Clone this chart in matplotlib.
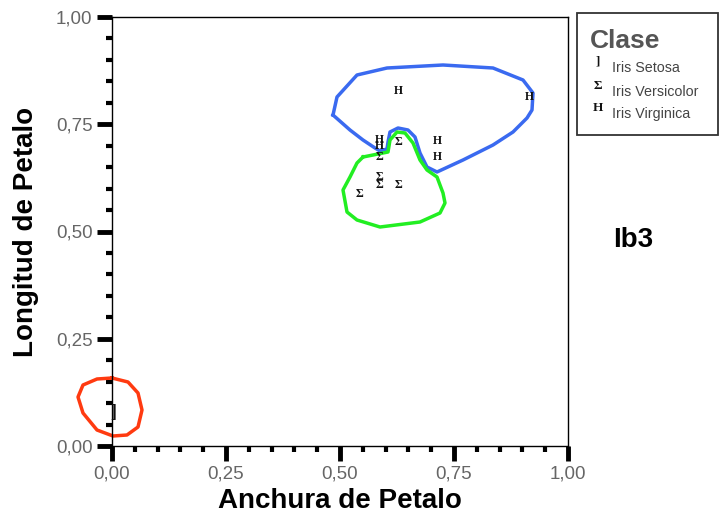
import matplotlib
matplotlib.use("Agg")
import matplotlib.pyplot as plt
from matplotlib.patches import Rectangle
from matplotlib.ticker import MultipleLocator, FuncFormatter

# ---- data ----
setosa_x = [0.0]
setosa_y = [0.079]
versicolor_x = [0.629, 0.586, 0.586, 0.586, 0.629, 0.542]
versicolor_y = [0.709, 0.674, 0.627, 0.608, 0.608, 0.587]
virginica_x = [0.629, 0.915, 0.586, 0.586, 0.713, 0.713]
virginica_y = [0.827, 0.813, 0.713, 0.699, 0.711, 0.674]

legend_labels = ["Iris Setosa", "Iris Versicolor", "Iris Virginica"]
legend_symbols = ["]", "\u03a3", "H"]

# hand-drawn outlines (pixel-read, converted to data units below)
blue_px = [(333,115),(337,97),(357,75),(387,68),(443,65),(493,68),(523,80),(533,93),
           (532,110),(527,118),(513,132),(493,145),(463,160),(437,172),(427,167),
           (420,153),(415,137),(408,130),(398,128),(390,132),(388,142),(387,149),
           (380,151),(375,148),(363,140),(350,130),(333,115)]
green_px = [(363,157),(388,152),(390,140),(397,132),(405,133),(413,143),(420,160),
            (427,170),(437,177),(443,193),(445,203),(440,213),(420,222),(380,227),
            (357,220),(347,212),(343,190),(350,177),(357,163),(363,157)]
red_px = [(112,378),(128,382),(138,393),(142,410),(138,427),(127,435),(113,436),
          (97,430),(83,413),(78,397),(83,385),(97,379),(112,378)]

def to_data(pts):
    xs = [(p[0] - 112) / 456.0 for p in pts]
    ys = [(446 - p[1]) / 429.0 for p in pts]
    return xs, ys

W, H = 722, 521
fig = plt.figure(figsize=(W/100, H/100), dpi=100)
ax = fig.add_axes([112/W, (H-446)/H, (568-112)/W, (446-17)/H])
ax.set_xlim(0, 1)
ax.set_ylim(0, 1)

for s in ax.spines.values():
    s.set_linewidth(1.0)
    s.set_color("black")

ax.xaxis.set_major_locator(MultipleLocator(0.25))
ax.yaxis.set_major_locator(MultipleLocator(0.25))
ax.xaxis.set_minor_locator(MultipleLocator(0.05))
ax.yaxis.set_minor_locator(MultipleLocator(0.05))
fmt = FuncFormatter(lambda v, p: f"{v:.2f}".replace(".", ","))
ax.xaxis.set_major_formatter(fmt)
ax.yaxis.set_major_formatter(fmt)
ax.tick_params(which="major", direction="out", length=11, width=3.5, color="black",
               labelsize=13.5, labelcolor="#666666", pad=3)
ax.tick_params(which="minor", direction="out", length=4, width=3, color="black")
for lab in ax.get_xticklabels() + ax.get_yticklabels():
    lab.set_family("Liberation Sans")

ax.set_xlabel("Anchura de Petalo", fontsize=20, fontweight="bold",
              family="Liberation Sans", labelpad=4)
ax.set_ylabel("Longitud de Petalo", fontsize=20, fontweight="bold",
              family="Liberation Sans", labelpad=12)

# outlines
bx, by = to_data(blue_px)
gx, gy = to_data(green_px)
rx, ry = to_data(red_px)
ax.plot(bx, by, color="#3a6af0", lw=2.5, clip_on=False, solid_joinstyle="round")
ax.plot(gx, gy, color="#22ee22", lw=2.5, clip_on=False, solid_joinstyle="round")
ax.plot(rx, ry, color="#ff3a10", lw=2.5, clip_on=False, solid_joinstyle="round")

# points as glyphs
mk = dict(ha="center", va="center", family="Liberation Serif", fontsize=8.5,
          fontweight="bold", color="#111111", clip_on=False)
for x, y in zip(setosa_x, setosa_y):
    ax.text(x + 0.002, y, legend_symbols[0], ha="center", va="center",
            family="Liberation Serif", fontsize=13, fontweight="bold",
            color="#111111", clip_on=False)
for x, y in zip(versicolor_x, versicolor_y):
    ax.text(x, y, legend_symbols[1], **mk)
for x, y in zip(virginica_x, virginica_y):
    ax.text(x, y, legend_symbols[2], **mk)

# legend box
fig.patches.append(Rectangle((577/W, (H-135)/H), (718-577)/W, (135-13)/H,
                             transform=fig.transFigure, fill=False,
                             edgecolor="#333333", lw=1.3))
fig.text(590/W, (H-41)/H, "Clase", fontsize=19, fontweight="bold",
         color="#555555", family="Liberation Sans", va="center", ha="left")
rows_y = [68, 92, 114]
for sym, lab, yy in zip(legend_symbols, legend_labels, rows_y):
    fig.text(598/W, (H-yy+6)/H, sym, fontsize=9.5, fontweight="bold",
             family="Liberation Serif", color="#111111", va="center", ha="center")
    fig.text(612/W, (H-yy)/H, lab, fontsize=10.3, family="Liberation Sans",
             color="#444444", va="center", ha="left")

fig.text(633/W, (H-240)/H, "Ib3", fontsize=20, fontweight="bold",
         family="Liberation Sans", ha="center", va="center", color="black")

fig.savefig("out.png", dpi=100)
